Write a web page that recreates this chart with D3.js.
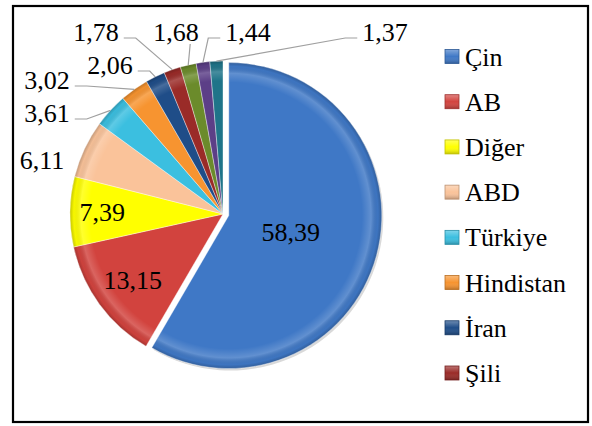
<!DOCTYPE html>
<html><head><meta charset="utf-8"><script src="https://cdn.jsdelivr.net/npm/d3@7"></script></head>
<body style="margin:0">
<svg id="chart" width="592" height="426"></svg>
<script>
// values (percent shares)
const categories = ["Çin", "AB", "Diğer", "ABD", "Türkiye", "Hindistan", "İran", "Şili", "Dilim 9", "Dilim 10", "Dilim 11"];
const shares = [58.39, 13.15, 7.39, 6.11, 3.61, 3.02, 2.06, 1.78, 1.68, 1.44, 1.37];
const legendCount = 8; // legend in the original is cut after Şili
const colors = ["#3f78c6", "#d2433e", "#ffff00", "#fac39a", "#3bbfe0", "#f79430",
                "#1f4d88", "#9a2b28", "#6b8b2b", "#5c3f87", "#1f7489"];

// label layout (Excel "best fit" placement)
const insideLabelRadius = [0.42, 0.73, 0.79];
const calloutSpots = {
  3: { x: 42, y: 160, leader: false },
  4: { x: 47, y: 113, leader: true },
  5: { x: 47, y: 80, leader: true },
  6: { x: 110, y: 65, leader: true },
  7: { x: 96, y: 32, leader: true },
  8: { x: 176, y: 32, leader: true },
  9: { x: 248, y: 32, leader: true },
  10: { x: 385, y: 32, leader: true }
};

const fmt = v => d3.format(".2f")(v).replace(".", ",");
const fontName = '"Liberation Serif"';

const svg = d3.select("#chart");
const cx = 223, cy = 214, radius = 153, explode = 6;

// frame
svg.append("rect")
  .attr("x", 13).attr("y", 6).attr("width", 575).attr("height", 416)
  .attr("fill", "#fff").attr("stroke", "#000").attr("stroke-width", 2.2);

const defs = svg.append("defs");
const rim = defs.append("radialGradient")
  .attr("id", "rim").attr("gradientUnits", "userSpaceOnUse")
  .attr("cx", 0).attr("cy", 0).attr("r", radius);
[[0, "#fff", 0], [0.87, "#fff", 0], [0.93, "#fff", 0.18], [0.975, "#000", 0.03], [1, "#000", 0.22]]
  .forEach(([o, c, a]) => rim.append("stop").attr("offset", o).attr("stop-color", c).attr("stop-opacity", a));

const keyGrad = defs.append("linearGradient").attr("id", "keyShade")
  .attr("x1", 0).attr("y1", 0).attr("x2", 0).attr("y2", 1);
keyGrad.append("stop").attr("offset", 0).attr("stop-color", "#fff").attr("stop-opacity", 0.35);
keyGrad.append("stop").attr("offset", 0.5).attr("stop-color", "#fff").attr("stop-opacity", 0);
keyGrad.append("stop").attr("offset", 1).attr("stop-color", "#000").attr("stop-opacity", 0.25);

const pie = d3.pie().sort(null).value(d => d)(shares);
const arc = d3.arc().innerRadius(0).outerRadius(radius);

const g = svg.append("g").attr("transform", `translate(${cx},${cy})`);

function offsetOf(d, i) {
  if (i !== 0) return [0, 0];
  const a = (d.startAngle + d.endAngle) / 2;
  return [explode * Math.sin(a), -explode * Math.cos(a)];
}

const slices = g.selectAll("g.slice")
  .data(pie)
  .join("g")
  .attr("class", "slice")
  .attr("transform", (d, i) => `translate(${offsetOf(d, i)})`);

// soft shadow under the exploded slice
slices.filter((d, i) => i === 0).append("path")
  .attr("d", arc)
  .attr("transform", "translate(1.5,2)")
  .attr("fill", "#000").attr("fill-opacity", 0.15);
slices.append("path")
  .attr("d", arc)
  .attr("fill", (d, i) => colors[i]);
slices.append("path")
  .attr("d", arc)
  .attr("fill", "url(#rim)")
  .attr("stroke", "#fff").attr("stroke-opacity", 0.55).attr("stroke-width", 0.7);

// approximate width of a Times-like numeric label (digits 0.5em, comma 0.25em)
const labelWidth = s => 26 * d3.sum(s.split(""), c => (c === "," ? 0.25 : 0.5));

// all value labels: three inside, the rest as callouts
const labelData = pie.map((d, i) => {
  const a = (d.startAngle + d.endAngle) / 2;
  if (i < insideLabelRadius.length) {
    const [ox, oy] = offsetOf(d, i);
    const rr = radius * insideLabelRadius[i];
    return { d, x: cx + ox + rr * Math.sin(a), y: cy + oy - rr * Math.cos(a), leader: false };
  }
  const spot = calloutSpots[i];
  return { d, x: spot.x, y: spot.y, leader: spot.leader, a };
});

svg.append("g").selectAll("text")
  .data(labelData)
  .join("text")
  .attr("x", l => l.x).attr("y", l => l.y + 9)
  .attr("text-anchor", "middle")
  .attr("font-size", 26)
  .style("font-family", fontName)
  .text(l => fmt(l.d.value));

// leader lines
svg.append("g").selectAll("path")
  .data(labelData.filter(l => l.leader))
  .join("path")
  .attr("d", l => {
    const w = labelWidth(fmt(l.d.value));
    const ax = cx + radius * Math.sin(l.a), ay = cy - radius * Math.cos(l.a);
    const left = l.x - w / 2, right = l.x + w / 2, ly = l.y + 6;
    if (ax > left && ax < right) return d3.line()([[ax + 2, l.y + 12], [ax, ay]]);
    if (ax >= right) return d3.line()([[right + 5, ly], [right + 17, ly], [ax, ay]]);
    return d3.line()([[left - 5, ly], [left - 17, ly], [ax, ay]]);
  })
  .attr("fill", "none").attr("stroke", "#a0a0a0").attr("stroke-width", 1.2);

// legend
const legendY = d3.scalePoint()
  .domain(categories.slice(0, legendCount))
  .range([56.5, 373]);
const items = svg.append("g").selectAll("g")
  .data(categories.slice(0, legendCount))
  .join("g")
  .attr("transform", d => `translate(445,${legendY(d)})`);
items.append("rect")
  .attr("x", 0).attr("y", -7).attr("width", 14).attr("height", 14)
  .attr("fill", (d, i) => colors[i]);
items.append("rect")
  .attr("x", 0).attr("y", -7).attr("width", 14).attr("height", 14)
  .attr("fill", "url(#keyShade)")
  .attr("stroke", (d, i) => d3.color(colors[i]).darker(0.8)).attr("stroke-width", 0.8);
items.append("text")
  .attr("x", 20).attr("y", 9)
  .attr("font-size", 26)
  .style("font-family", fontName)
  .text(d => d);
</script>
</body>
</html>
